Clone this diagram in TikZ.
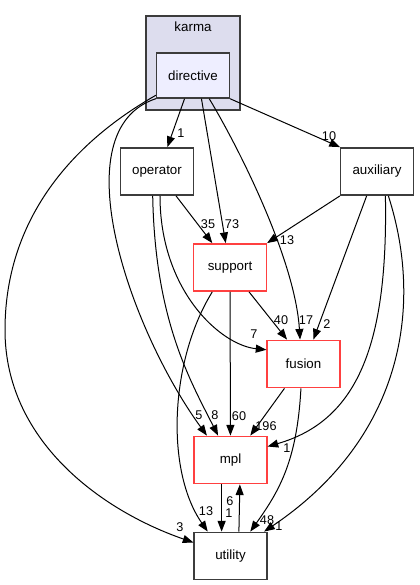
\documentclass[tikz,border=0pt]{standalone}
\usepackage{fontspec}
\setmainfont{Liberation Sans}
\usetikzlibrary{arrows.meta}
\definecolor{clusterfill}{RGB}{221,221,238}
\definecolor{dirfill}{RGB}{238,238,255}
\definecolor{boxred}{RGB}{255,64,64}
\definecolor{boxline}{RGB}{60,60,60}
\begin{document}
\begin{tikzpicture}[x=0.75pt,y=-0.75pt,
  dirbox/.style={draw=boxline,line width=1.1pt,fill=white,inner sep=0pt,
    minimum width=54.5pt,minimum height=35.5pt,font=\fontsize{10}{12}\selectfont},
  redbox/.style={dirbox,draw=boxred},
  cluster/.style={draw=boxline,line width=1.1pt,fill=clusterfill,inner sep=0pt,
    minimum width=70.5pt,minimum height=70.5pt},
  edge/.style={line width=0.75pt,-{Triangle[length=8pt,width=6pt]}},
  lbl/.style={inner sep=0pt,font=\fontsize{9.5}{11}\selectfont}]

\useasboundingbox (0,0) rectangle (419,585);

% karma cluster
\node [cluster] (karma) at (193,63) {};
\node [inner sep=0pt,font=\fontsize{10}{12}\selectfont] (karmalbl) at (193,27) {karma};
\node [dirbox,fill=dirfill,minimum height=33.75pt] (directive) at (193,75.5) {directive};

\node [dirbox] (operator) at (157,171.5) {operator};
\node [dirbox] (auxiliary) at (377,171.5) {auxiliary};
\node [redbox] (support) at (230,267.5) {support};
\node [redbox] (fusion) at (303.5,364) {fusion};
\node [redbox] (mpl) at (230.5,460) {mpl};
\node [dirbox] (utility) at (230.5,556) {utility};

% from directive
\draw [edge] (directive.-110) -- (operator.67);
\node [lbl] (l1) at (181,133) {1};
\draw [edge] (directive.south east) -- (auxiliary.north west);
\node [lbl] (l2) at (329,136) {10};
\draw [edge] (directive.-70) -- (support.100);
\node [lbl] (l3) at (232,224) {73};
\draw [edge] (directive.-55) .. controls (240,150) and (295,260) .. (fusion.98);
\node [lbl] (l4) at (306,320) {17};
\draw [edge] (directive.-148) .. controls (60,130) and (130,330) .. (mpl.134);
\node [lbl] (l5) at (199,415) {5};
\draw [edge] (directive.-152) .. controls (60,150) and (5,230) .. (5,330)
  .. controls (5,440) and (100,510) .. (utility.160);
\node [lbl] (l6) at (180,527) {3};

% from operator
\draw [edge] (operator.-52) -- (support.126);
\node [lbl] (l7) at (208,224) {35};
\draw [edge] (operator.-83) .. controls (160,290) and (220,345) .. (fusion.159);
\node [lbl] (l8) at (254,334) {7};
\draw [edge] (operator.-100) .. controls (155,320) and (190,380) .. (mpl.117);
\node [lbl] (l9) at (215,415) {8};

% from auxiliary
\draw [edge] (auxiliary.south west) -- (support.north east);
\node [lbl] (l10) at (287,240) {13};
\draw [edge] (auxiliary.-113) -- (fusion.68);
\node [lbl] (l11) at (327,324) {2};
\draw [edge] (auxiliary.-71) .. controls (388,340) and (360,420) .. (mpl.20);
\node [lbl] (l12) at (287,448) {1};
\draw [edge] (auxiliary.-65) .. controls (425,310) and (400,440) .. (utility.36);
\node [lbl] (l13) at (279,526) {1};

% from support
\draw [edge] (support.-52) -- (fusion.124);
\node [lbl] (l14) at (281,320) {40};
\draw [edge] (support) -- (mpl);
\node [lbl] (l15) at (239,416) {60};
\draw [edge] (support.-126) .. controls (170,360) and (165,470) .. (utility.133);
\node [lbl] (l16) at (206,511) {13};

% from fusion
\draw [edge] (fusion.-128) -- (mpl.51);
\node [lbl] (l17) at (266,426) {196};
\draw [edge] (fusion.-96) .. controls (297,460) and (280,490) .. (utility.51);
\node [lbl] (l18) at (267,520) {48};

% mpl and utility
\draw [edge] (mpl.-110) -- (utility.110);
\node [lbl] (l19) at (229,513) {1};
\draw [edge] (utility.71) -- (mpl.-69);
\node [lbl] (l20) at (230,501) {6};
\end{tikzpicture}
\end{document}
